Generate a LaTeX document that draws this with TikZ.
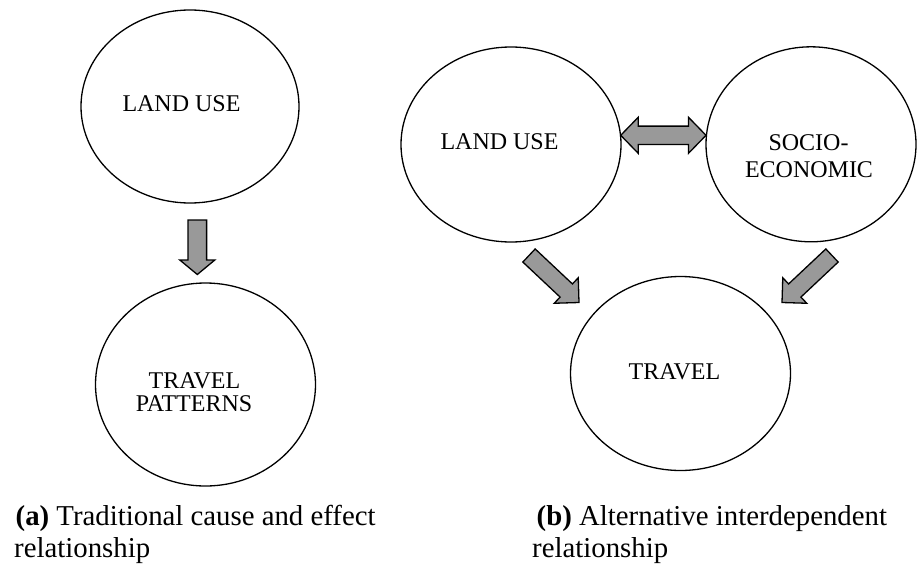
\documentclass[tikz,border=0pt]{standalone}
\usepackage{fontspec}
\setmainfont{Liberation Serif}
\usetikzlibrary{calc,shapes.geometric}

\tikzset{
  bubble/.style={draw, line width=1.3pt, ellipse, inner sep=0pt},
  intext/.style={inner sep=0pt, anchor=base, font=\fontsize{24}{28}\selectfont},
  captext/.style={inner sep=0pt, anchor=base west, font=\fontsize{28.8}{32}\selectfont},
  blockarrow/.style={draw, line width=1.3pt, fill=black!40, line join=miter},
}

% block arrow: #1 tail, #2 tip, #3 half shaft width, #4 half head width, #5 head length
\newcommand{\ShaftArrow}[5]{%
  \coordinate (hb) at ($(#2)!#5!(#1)$);
  \draw[blockarrow] ($(#1)!#3!90:(#2)$) -- ($(hb)!#3!90:(#2)$) -- ($(hb)!#4!90:(#2)$)
    -- (#2) -- ($(hb)!#4!-90:(#2)$) -- ($(hb)!#3!-90:(#2)$) -- ($(#1)!#3!-90:(#2)$) -- cycle;
}
% double-headed block arrow between #1 and #2
\newcommand{\TwinArrow}[5]{%
  \coordinate (ha) at ($(#1)!#5!(#2)$);
  \coordinate (hb) at ($(#2)!#5!(#1)$);
  \draw[blockarrow] (#1) -- ($(ha)!#4!90:(#2)$) -- ($(ha)!#3!90:(#2)$)
    -- ($(hb)!#3!-90:(#1)$) -- ($(hb)!#4!-90:(#1)$) -- (#2)
    -- ($(hb)!#4!90:(#1)$) -- ($(hb)!#3!90:(#1)$)
    -- ($(ha)!#3!-90:(#2)$) -- ($(ha)!#4!-90:(#2)$) -- cycle;
}

\begin{document}
\begin{tikzpicture}[x=1pt, y=-1pt]
  \useasboundingbox (0,0) rectangle (917,567);

  % (a) traditional model
  \node[bubble, minimum width=218pt, minimum height=193pt] (landA) at (190,106.5) {};
  \node[bubble, minimum width=220pt, minimum height=203pt] (travA) at (205.5,384.5) {};
  \node[intext] (landAt) at (181.5,112) {LAND USE};
  \node[intext] (travAt1) at (194.5,388) {TRAVEL};
  \node[intext] (travAt2) at (194,411.7) {PATTERNS};

  % (b) interdependent model
  \node[bubble, minimum width=220pt, minimum height=195pt] (landB) at (511,144.5) {};
  \node[bubble, minimum width=210pt, minimum height=195pt] (socB) at (811,144.3) {};
  \node[bubble, minimum width=220pt, minimum height=194pt] (travB) at (680.5,373.5) {};
  \node[intext] (landBt) at (499.5,149.3) {LAND USE};
  \node[intext] (socBt1) at (808.5,150) {SOCIO-};
  \node[intext] (socBt2) at (809,177.3) {ECONOMIC};
  \node[intext] (travBt) at (674.5,379.3) {TRAVEL};

  % arrow end points
  \coordinate (a1tail) at (197.3,220);
  \coordinate (a1tip) at (197.3,274.5);
  \coordinate (a2left) at (620.7,135.3);
  \coordinate (a2right) at (706,135.3);
  \coordinate (a3tail) at (529,255.5);
  \coordinate (a3tip) at (579,302.5);
  \coordinate (a4tail) at (832,255.5);
  \coordinate (a4tip) at (782,302.5);

  \ShaftArrow{a1tail}{a1tip}{9.3pt}{17.5pt}{14.5pt}
  \TwinArrow{a2left}{a2right}{9.2pt}{18pt}{17.5pt}
  \ShaftArrow{a3tail}{a3tip}{9pt}{17.5pt}{17.5pt}
  \ShaftArrow{a4tail}{a4tip}{9pt}{17.5pt}{17.5pt}

  % captions
  \node[captext] (capA1) at (15.5,525) {\textbf{(a)} Traditional cause and effect};
  \node[captext] (capA2) at (14,557) {relationship};
  \node[captext] (capB1) at (536.5,525) {\textbf{(b)} Alternative interdependent};
  \node[captext] (capB2) at (532,557) {relationship};
\end{tikzpicture}
\end{document}
